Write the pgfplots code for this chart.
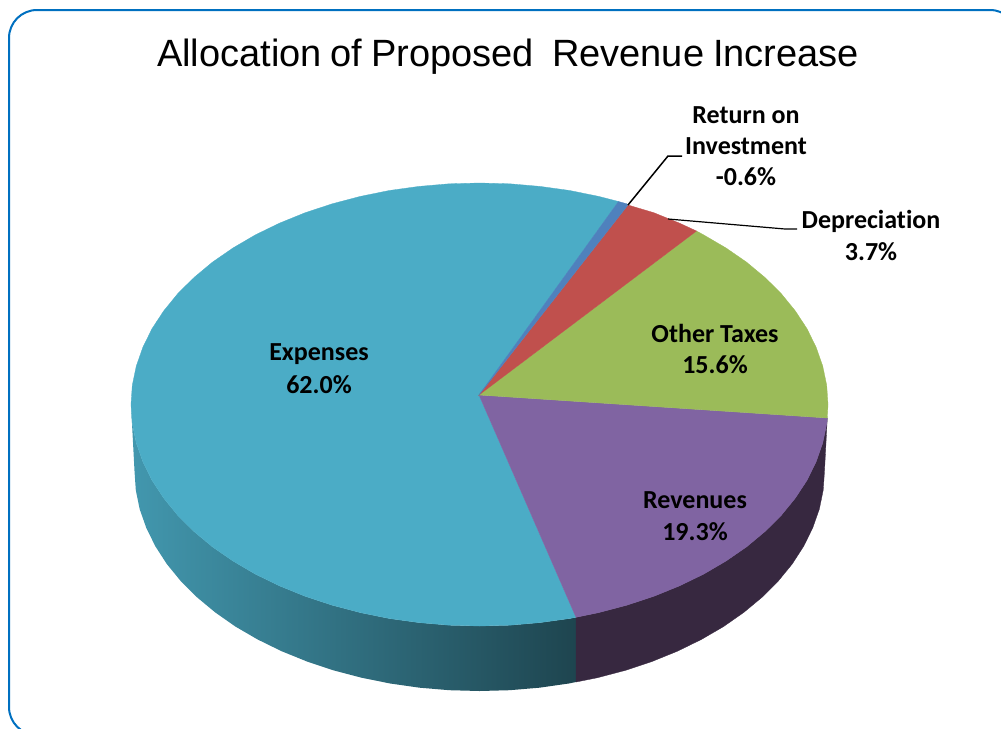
\documentclass[border=0pt]{standalone}
\usepackage{fontspec}
\setmainfont[Ligatures=NoCommon]{Carlito}
\newfontfamily\titlefont{Liberation Sans}
\usepackage{pgfplots}
\pgfplotsset{compat=1.18}

\definecolor{frameblue}{HTML}{0070C0}
\definecolor{aqua}{HTML}{4BACC6}
\definecolor{purp}{HTML}{8064A2}
\definecolor{grn}{HTML}{9BBB59}
\definecolor{rd}{HTML}{C0504D}
\definecolor{blu}{HTML}{4F81BD}
\definecolor{purpside}{HTML}{372840}

% one line of a data label: centre x, baseline y (pixels)
\newcommand{\lab}[3]{\node[font=\fontsize{26}{26}\selectfont\bfseries, inner sep=0pt, anchor=base] at (axis cs:#1,#2) {#3};}

\begin{document}
\begin{tikzpicture}[x=1pt,y=1pt]
\useasboundingbox (0,0) rectangle (1001pt,728pt);
\begin{axis}[
    at={(0,0)}, anchor=south west,
    scale only axis,
    width=1001pt, height=728pt,
    xmin=0, xmax=1001, ymin=0, ymax=728,
    y dir=reverse,
    hide axis,
    clip=false,
]
% frame, runs off the right and bottom of the page
\addplot[frameblue, line width=2pt, rounded corners=28pt] coordinates
  {(9,735) (9,10) (1018,10) (1018,735)} --cycle;

% side of the pie
\addplot[draw=none, left color=aqua!88!black, right color=aqua!40!black] coordinates {
 (131.0,404.5) (132.3,423.8) (136.3,443.0) (142.9,461.8) (152.0,480.3) (163.7,498.1)
 (177.7,515.3) (194.0,531.5) (212.5,546.9) (233.1,561.1) (255.5,574.2) (279.6,585.9)
 (305.2,596.3) (332.2,605.2) (360.3,612.6) (389.3,618.5) (419.0,622.6) (449.1,625.2)
 (479.5,626.0) (509.9,625.2) (540.0,622.6) (569.7,618.5) (576.0,617.3)
 (576.0,682.0) (568.8,683.5) (539.4,687.7) (509.6,690.2) (479.5,691.0) (449.4,690.2)
 (419.6,687.7) (390.2,683.5) (361.5,677.7) (333.7,670.4) (307.0,661.5) (281.6,651.2)
 (257.7,639.5) (235.5,626.6) (215.2,612.4) (196.9,597.2) (180.7,581.0) (166.8,564.0)
 (155.3,546.2) (146.3,527.9) (139.7,509.2) (135.8,490.2) (134.5,471.0)
} --cycle;
\addplot[fill=purpside, draw=purpside, line width=0.3pt] coordinates {
 (576.0,617.3) (598.7,612.6) (626.8,605.2) (653.8,596.3) (679.4,585.9) (703.5,574.2)
 (725.9,561.1) (746.5,546.9) (765.0,531.5) (781.3,515.3) (795.3,498.1) (807.0,480.3)
 (816.1,461.8) (822.7,443.0) (826.7,423.8) (827.3,418.0)
 (824.5,471.0) (823.2,490.2) (819.3,509.2) (812.7,527.9) (803.7,546.2) (792.2,564.0)
 (778.3,581.0) (762.1,597.2) (743.8,612.4) (723.5,626.6) (701.3,639.5) (677.4,651.2)
 (652.0,661.5) (625.3,670.4) (597.5,677.7) (576.0,682.0)
} --cycle;

% Expenses 62.0
\addplot[fill=aqua, draw=aqua, line width=0.3pt] coordinates {
 (479,395) (618.5,201.5) (598.7,196.4) (569.7,190.5) (540.0,186.4) (509.9,183.8)
 (479.5,183.0) (449.1,183.8) (419.0,186.4) (389.3,190.5) (360.3,196.4) (332.2,203.8)
 (305.2,212.7) (279.6,223.1) (255.5,234.8) (233.1,247.9) (212.5,262.1) (194.0,277.5)
 (177.7,293.7) (163.7,310.9) (152.0,328.7) (142.9,347.2) (136.3,366.0) (132.3,385.2)
 (131.0,404.5) (132.3,423.8) (136.3,443.0) (142.9,461.8) (152.0,480.3) (163.7,498.1)
 (177.7,515.3) (194.0,531.5) (212.5,546.9) (233.1,561.1) (255.5,574.2) (279.6,585.9)
 (305.2,596.3) (332.2,605.2) (360.3,612.6) (389.3,618.5) (419.0,622.6) (449.1,625.2)
 (479.5,626.0) (509.9,625.2) (540.0,622.6) (569.7,618.5) (576.0,617.3)
} --cycle;
% Revenues 19.3
\addplot[fill=purp, draw=purp, line width=0.3pt] coordinates {
 (479,395) (576.0,617.3) (598.7,612.6) (626.8,605.2) (653.8,596.3) (679.4,585.9)
 (703.5,574.2) (725.9,561.1) (746.5,546.9) (765.0,531.5) (781.3,515.3) (795.3,498.1)
 (807.0,480.3) (816.1,461.8) (822.7,443.0) (826.7,423.8) (827.3,418.0)
} --cycle;
% Other Taxes 15.6
\addplot[fill=grn, draw=grn, line width=0.3pt] coordinates {
 (479,395) (827.3,418.0) (828.0,404.5) (826.7,385.2) (822.7,366.0) (816.1,347.2)
 (807.0,328.7) (795.3,310.9) (781.3,293.7) (765.0,277.5) (746.5,262.1) (725.9,247.9)
 (703.5,234.8) (696.5,231.0)
} --cycle;
% Depreciation 3.7
\addplot[fill=rd, draw=rd, line width=0.3pt] coordinates {
 (479,395) (696.5,231.0) (679.4,223.1) (653.8,212.7) (628.0,205.0)
} --cycle;
% Return on Investment -0.6
\addplot[fill=blu, draw=blu, line width=0.3pt] coordinates {
 (479,395) (628.0,205.0) (626.8,203.8) (618.5,201.5)
} --cycle;

% leader lines
\addplot[black, line width=1.5pt] coordinates {(628,205) (668,156) (682,156)};
\addplot[black, line width=1.2pt] coordinates {(668,219) (785,229) (797,229)};

\node[font=\titlefont\fontsize{38}{38}\selectfont, inner sep=0pt, anchor=base] at (axis cs:508,66)
  {\spaceskip=9pt\relax Allocation of Proposed\ \ Revenue Increase};

\lab{746}{123}{Return on}
\lab{746}{154}{Investment}
\lab{746}{185}{-0.6\%}
\lab{871}{228}{Depreciation}
\lab{871}{260}{3.7\%}
\lab{715}{342}{Other Taxes}
\lab{715}{373}{15.6\%}
\lab{695}{508}{Revenues}
\lab{695}{540}{19.3\%}
\lab{319}{360}{Expenses}
\lab{319}{393}{62.0\%}
\end{axis}
\end{tikzpicture}
\end{document}
